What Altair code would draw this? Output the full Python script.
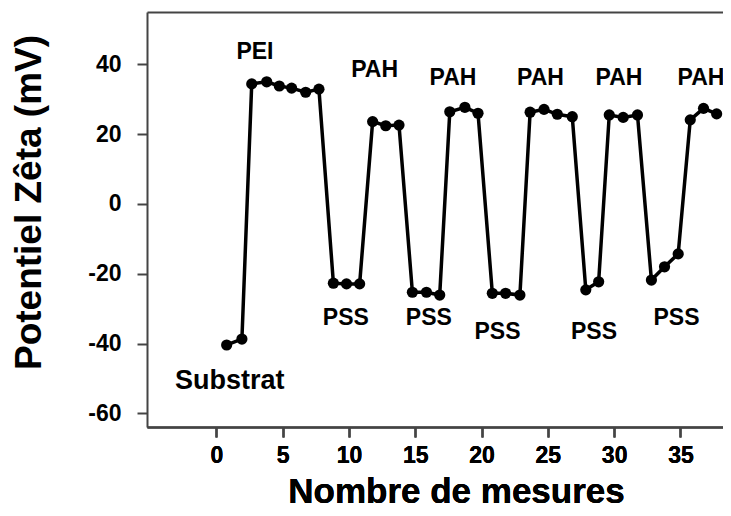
import altair as alt
import pandas as pd

# measurement positions (as read against the x axis) and zeta potential (mV)
x_vals = [0.77, 1.92, 2.66, 3.79, 4.74, 5.67, 6.73, 7.73, 8.82, 9.81,
          10.80, 11.78, 12.77, 13.77, 14.78, 15.84, 16.84, 17.60, 18.74, 19.73,
          20.81, 21.81, 22.89, 23.66, 24.71, 25.71, 26.84, 27.86, 28.83, 29.63,
          30.68, 31.76, 32.81, 33.80, 34.83, 35.74, 36.74, 37.73]
y_vals = [-40.4, -38.7,
          34.4, 35.0, 33.8, 33.2, 32.0, 32.9,
          -22.7, -22.9, -22.9,
          23.6, 22.4, 22.6,
          -25.3, -25.3, -26.1,
          26.4, 27.7, 26.0,
          -25.6, -25.6, -26.1,
          26.3, 27.1, 25.7, 25.0,
          -24.6, -22.3,
          25.5, 24.8, 25.5,
          -21.8, -18.0, -14.3,
          24.1, 27.4, 25.8]

label_text = ["Substrat", "PEI", "PAH", "PAH", "PAH", "PAH", "PAH",
              "PSS", "PSS", "PSS", "PSS", "PSS"]
label_x = [1.0, 2.9, 11.93, 17.84, 24.44, 30.36, 36.55,
           9.76, 16.02, 21.2, 28.48, 34.7]
label_y = [-50.7, 43.6, 38.5, 36.1, 36.1, 36.1, 36.1,
           -32.6, -32.6, -36.7, -36.7, -32.6]
label_size = [27, 23, 23, 23, 23, 23, 23, 23, 23, 23, 23, 23]

x_ticks = [0, 5, 10, 15, 20, 25, 30, 35]
y_ticks = [-60, -40, -20, 0, 20, 40]

df = pd.DataFrame({"i": list(range(len(x_vals))), "x": x_vals, "y": y_vals})
lab = pd.DataFrame({"t": label_text, "x": label_x, "y": label_y, "s": label_size})

FONT = "Liberation Sans"
W, H = 576, 415

xscale = alt.Scale(domain=[-5.24, 38.21], nice=False, zero=False)
yscale = alt.Scale(domain=[-63.9, 55.0], nice=False, zero=False)

xaxis = alt.Axis(values=x_ticks, grid=False, title="Nombre de mesures",
                 orient="bottom", ticks=True, labels=True, domain=True,
                 titleFontSize=35, titleX=309, titleY=64,
                 titleBaseline="middle", titleAlign="center",
                 labelPadding=7, labelExpr="'' + datum.value")
xaxis_top = alt.Axis(orient="top", grid=False, labels=False, ticks=False,
                     title=None, domain=True)
yaxis = alt.Axis(values=y_ticks, grid=False, title="Potentiel Zêta (mV)",
                 orient="left", ticks=True, labels=True, domain=True,
                 titleFontSize=37, titleX=-118, titleY=190,
                 titleBaseline="middle", titleAlign="center",
                 labelPadding=16, labelExpr="'' + datum.value")

X = alt.X("x:Q", scale=xscale, axis=xaxis)
Y = alt.Y("y:Q", scale=yscale, axis=yaxis)

base = alt.Chart(df)
line = base.mark_line(color="black", strokeWidth=3.5).encode(
    x=X, y=Y, order="i:Q",
)
pts = base.mark_circle(color="black", size=125, opacity=1).encode(x=X, y=Y)
texts = alt.Chart(lab).mark_text(font=FONT, fontWeight="bold", color="black",
                                 baseline="middle", align="center").encode(
    x=X, y=Y,
    text="t:N",
    size=alt.Size("s:Q", scale=None),
)
toplayer = base.mark_point(opacity=0).encode(
    x=alt.X("x:Q", scale=xscale, axis=xaxis_top),
    y=Y,
)

chart = alt.layer(line, pts, texts, toplayer).resolve_axis(x="independent").properties(
    width=W, height=H,
    autosize=alt.AutoSizeParams(type="none"),
    padding={"left": 139, "top": 4, "right": 0, "bottom": 81},
).configure_view(strokeWidth=0, stroke="transparent").configure_axis(
    domainColor="#444444", domainWidth=2,
    tickColor="#444444", tickWidth=2, tickSize=10,
    labelFont=FONT, labelFontWeight="bold", labelFontSize=23, labelColor="black",
    titleFont=FONT, titleFontWeight="bold", titleColor="black",
)

chart.save("out.html", embed_options={"renderer": "svg", "actions": False})
